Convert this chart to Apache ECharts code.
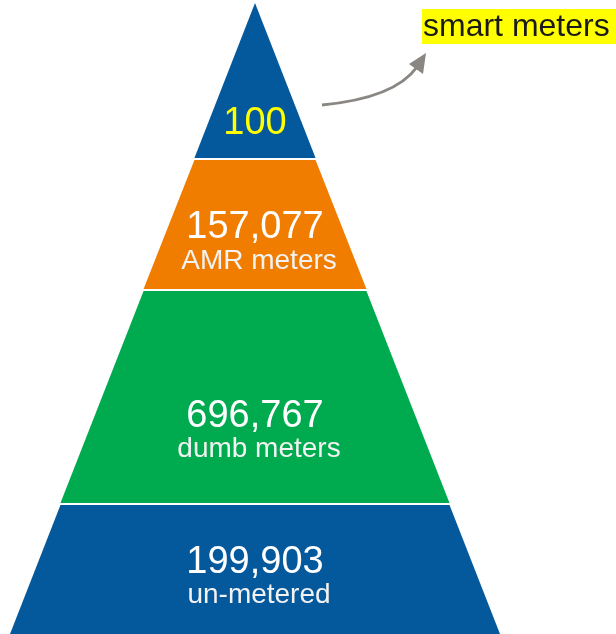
<!DOCTYPE html>
<html>
<head>
<meta charset="utf-8">
<script src="https://cdn.jsdelivr.net/npm/echarts@6/dist/echarts.min.js"></script>
<style>
  html, body { margin: 0; padding: 0; background: #fff; }
  #chart { width: 616px; height: 634px; }
</style>
</head>
<body>
<div id="chart"></div>
<script>
  // pyramid tiers, top to bottom
  var tiers = ['smart meters', 'AMR meters', 'dumb meters', 'un-metered'];
  var counts = [100, 157077, 696767, 199903];
  // where each tier ends, as a share of the pyramid height (apex = 0, base = 1)
  var tierEdges = [0, 0.2472, 0.4548, 0.794, 1];

  var colors = ['#04589c', '#f07c00', '#00ab4f', '#04589c'];
  var labelAt = [0.78, 0.655, 0.67, 0.575];
  var font = '"Liberation Sans", Arial, sans-serif';

  var data = [];
  for (var i = 0; i < tiers.length; i++) {
    data.push([i, tierEdges[i], tierEdges[i + 1]]);
  }

  function renderItem(params, api) {
    var i = params.dataIndex;
    var d0 = api.value(1);
    var d1 = api.value(2);
    // half width of the pyramid equals the depth on this scale
    var tl = api.coord([-d0, d0]);
    var tr = api.coord([d0, d0]);
    var br = api.coord([d1, d1]);
    var bl = api.coord([-d1, d1]);
    var gapTop = i > 0 ? 1 : 0;
    var gapBot = i < tiers.length - 1 ? 1 : 0;
    tl[1] += gapTop; tr[1] += gapTop;
    br[1] -= gapBot; bl[1] -= gapBot;

    var cx = api.coord([0, 0])[0];
    var ly = tl[1] + (bl[1] - tl[1]) * labelAt[i];
    var children = [{
      type: 'polygon',
      shape: {points: [tl, tr, br, bl]},
      style: {fill: colors[i]}
    }];
    if (i === 0) {
      children.push({
        type: 'text',
        style: {
          text: counts[i].toLocaleString('en-US'),
          x: cx, y: ly,
          align: 'center', verticalAlign: 'middle',
          fill: '#ffff00', fontSize: 38, fontFamily: font
        }
      });
    } else {
      children.push({
        type: 'text',
        style: {
          text: counts[i].toLocaleString('en-US'),
          x: cx, y: ly - 16.5,
          align: 'center', verticalAlign: 'middle',
          fill: '#ffffff', fontSize: 38, fontFamily: font
        }
      });
      children.push({
        type: 'text',
        style: {
          text: tiers[i],
          x: cx + 4, y: ly + 16.5,
          align: 'center', verticalAlign: 'middle',
          fill: '#f2f2f2', fontSize: 28, fontFamily: font
        }
      });
    }
    return {type: 'group', children: children};
  }

  var chart = echarts.init(document.getElementById('chart'));
  chart.setOption({
    animation: false,
    grid: {left: 10, right: 116, top: 3, bottom: 0},
    xAxis: {type: 'value', min: -1, max: 1, show: false},
    yAxis: {type: 'value', min: 0, max: 1, inverse: true, show: false},
    series: [{
      type: 'custom',
      renderItem: renderItem,
      data: data,
      clip: false
    }],
    graphic: [
      {
        type: 'rect',
        shape: {x: 422, y: 9, width: 200, height: 35},
        style: {fill: '#ffff00'}
      },
      {
        type: 'text',
        x: 423,
        y: 27,
        style: {
          text: tiers[0],
          align: 'left', verticalAlign: 'middle',
          fill: '#1a1a1a', fontSize: 32, fontFamily: font
        }
      },
      {
        type: 'bezierCurve',
        shape: {x1: 322, y1: 105, x2: 417, y2: 67, cpx1: 395, cpy1: 98},
        style: {stroke: '#8a8782', lineWidth: 3, fill: null}
      },
      {
        type: 'polygon',
        shape: {points: [[426, 53], [409, 64], [423, 74]]},
        style: {fill: '#8a8782'}
      }
    ]
  });
</script>
</body>
</html>
